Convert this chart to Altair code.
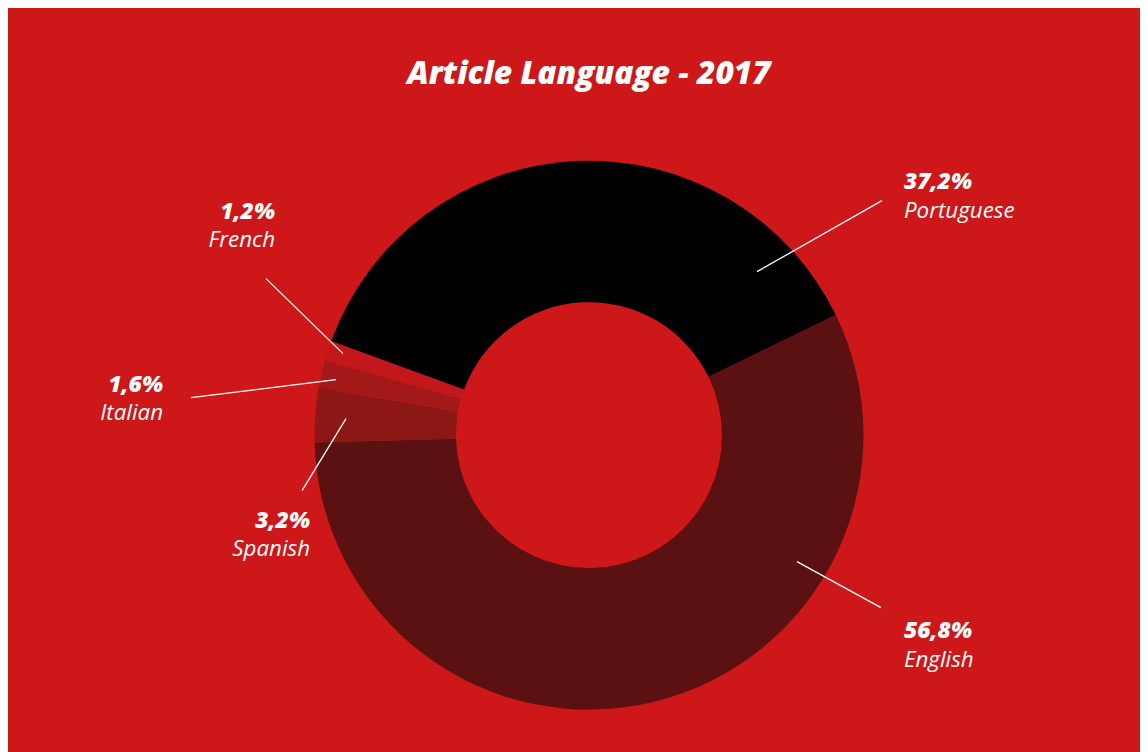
import altair as alt
import pandas as pd
import math

# ---- data ----
languages = ["English", "Spanish", "Italian", "French", "Portuguese"]
shares = [56.8, 3.2, 1.6, 1.2, 37.2]
slice_colors = ["#5B1112", "#8C1815", "#A3191A", "#C3181B", "#000000"]

title_text = "Article Language - 2017"

# ---- layout ----
W, H = 1140, 746
K = 1148 / (W + 16)          # page is captured fitted to the window width
BG = "#CD1719"
FONT = "Open Sans"


def px(v):
    """screen x -> chart x"""
    return v / K - 8


def py_(v):
    """screen y -> chart y"""
    return (v - 2) / K - 8


def sz(v):
    return v / K


CX, CY = px(589), py_(434.5)
R_OUT, R_IN = sz(274.5), sz(133)
START_DEG = 64

label_layout = {
    # language: (line x1, y1, x2, y2, text x, pct y, name y, align)  -- screen px
    "Portuguese": (757, 271, 882, 200, 904, 181, 210, "left"),
    "English": (797, 561, 881, 607, 904, 630, 659, "left"),
    "French": (266, 278, 343, 353, 275, 211, 239, "right"),
    "Italian": (191, 397, 336, 379, 163, 384, 412, "right"),
    "Spanish": (346, 418, 302, 490, 310, 520, 548, "right"),
}

df = pd.DataFrame({
    "language": languages,
    "share": shares,
    "order": list(range(len(languages))),
    "pct": [f"{v:.1f}".replace(".", ",") + "%" for v in shares],
})

rows = []
for lang, pct in zip(df["language"], df["pct"]):
    x1, y1, x2, y2, tx, ty1, ty2, al = label_layout[lang]
    rows.append(dict(language=lang, pct=pct, x1=px(x1), y1=py_(y1), x2=px(x2), y2=py_(y2),
                     tx=px(tx), py=py_(ty1), ny=py_(ty2), align=al))
ann = pd.DataFrame(rows)

xs = alt.Scale(domain=[0, W])
ys = alt.Scale(domain=[H, 0])

start = math.radians(START_DEG)
arcs = alt.Chart(df).mark_arc(outerRadius=R_OUT, innerRadius=R_IN, stroke=None).encode(
    theta=alt.Theta("share:Q", stack=True,
                    scale=alt.Scale(domain=[0, 100], range=[start, start + 2 * math.pi])),
    order=alt.Order("order:Q"),
    color=alt.Color("language:N", scale=alt.Scale(domain=languages, range=slice_colors), legend=None),
    x=alt.value(CX),
    y=alt.value(CY),
)

lines = alt.Chart(ann).mark_rule(color="white", strokeWidth=1.3).encode(
    x=alt.X("x1:Q", scale=xs, axis=None),
    y=alt.Y("y1:Q", scale=ys, axis=None),
    x2="x2:Q",
    y2="y2:Q",
)


def text_layer(align, field, yfield, bold):
    return alt.Chart(ann[ann["align"] == align]).mark_text(
        align=align, baseline="middle", color="white", font=FONT,
        fontSize=23 if bold else 22.5, fontStyle="italic",
        fontWeight=800 if bold else "normal",
    ).encode(
        x=alt.X("tx:Q", scale=xs, axis=None),
        y=alt.Y(f"{yfield}:Q", scale=ys, axis=None),
        text=f"{field}:N",
    )


title_df = pd.DataFrame({"t": [title_text], "x": [px(589)], "y": [py_(73)]})
title = alt.Chart(title_df).mark_text(
    align="center", baseline="middle", color="white", font=FONT,
    fontSize=32, fontStyle="italic", fontWeight=800,
).encode(
    x=alt.X("x:Q", scale=xs, axis=None),
    y=alt.Y("y:Q", scale=ys, axis=None),
    text="t:N",
)

chart = alt.layer(
    arcs, lines,
    text_layer("left", "pct", "py", True), text_layer("left", "language", "ny", False),
    text_layer("right", "pct", "py", True), text_layer("right", "language", "ny", False),
    title,
).properties(
    width=W, height=H, padding=0,
    autosize=alt.AutoSizeParams(type="fit", contains="padding"),
).configure(background=BG).configure_view(stroke=None)

chart.save("out.html", embed_options={"renderer": "svg", "actions": False})
